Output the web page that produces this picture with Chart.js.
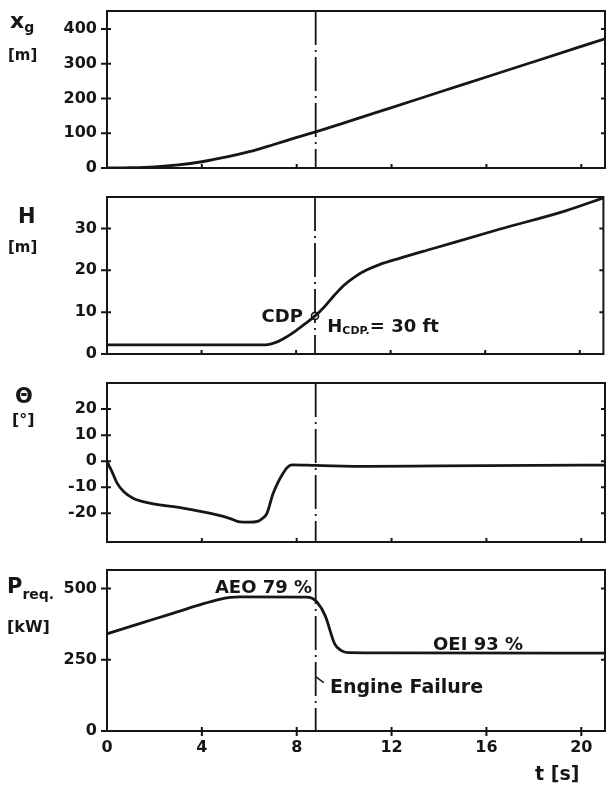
<!DOCTYPE html>
<html lang="de">
<head>
<meta charset="UTF-8">
<title>Take-off with engine failure at CDP</title>
<script src="https://cdn.jsdelivr.net/npm/chart.js@4"></script>
<style>
  html, body {
    margin: 0;
    padding: 0;
    width: 609px;
    height: 785px;
    overflow: hidden;
    background: #fff;
  }
  .panel {
    position: absolute;
    left: 0;
    width: 609px;
  }
</style>
</head>
<body>
<!-- four panels stacked, sharing the time axis -->
<div class="panel" style="top:-9px;height:197px"><canvas id="distChart"></canvas></div>
<div class="panel" style="top:177px;height:197px"><canvas id="heightChart"></canvas></div>
<div class="panel" style="top:363px;height:199px"><canvas id="pitchChart"></canvas></div>
<div class="panel" style="top:550px;height:235px"><canvas id="powerChart"></canvas></div>

<script>
// ---- data ----
const tTicks = [0, 4, 8, 12, 16, 20];
const failureTime = 8.8;   // engine failure / CDP

// horizontal distance x_g [m]
const tDist = [0, 1, 2, 3, 4, 5, 6, 7, 8, 8.8, 10, 12, 14, 16, 18, 20, 21];
const distVals = [0, 1, 3.5, 9, 18, 31, 47, 67, 88, 104, 130, 174, 218, 262, 306, 350, 372];
const distTicks = [0, 100, 200, 300, 400];

// height H [m]
const tHeight = [0, 6.7, 7.2, 7.6, 8.0, 8.4, 8.8, 9.2, 9.6, 10.0, 10.5, 11.0, 11.5, 12.4, 13.8, 16.6, 19.4, 21];
const heightVals = [2.2, 2.2, 2.9, 4.1, 5.6, 7.3, 9.1, 11.3, 13.9, 16.3, 18.5, 20.1, 21.3, 22.9, 25.2, 29.8, 34.2, 37.3];
const heightTicks = [0, 10, 20, 30];
const cdpPoint = [{x: 8.8, y: 9.1}];

// pitch attitude theta [deg]
const tPitch = [0, 0.1, 0.2, 0.43, 0.71, 1.1, 1.8, 3.2, 4.6, 5.2, 5.6, 6.0, 6.35, 6.55, 6.75, 7.0, 7.2, 7.4, 7.6, 7.8, 8.8, 11, 14, 18, 21];
const pitchVals = [0, -2, -3.8, -8.5, -11.7, -14.2, -16.1, -18.0, -20.5, -22.0, -23.3, -23.4, -23.1, -22.0, -19.9, -12.5, -8.3, -5.0, -2.4, -1.4, -1.6, -2.0, -1.8, -1.6, -1.5];
const pitchTicks = [-20, -10, 0, 10, 20];

// required power P_req [kW]
const tPower = [0, 1, 2, 3, 4, 4.7, 5.2, 5.6, 8.4, 8.65, 8.85, 9.2, 9.6, 9.85, 10.15, 12, 21];
const powerVals = [341, 367, 393, 419, 445, 461, 469, 471, 470, 466, 453, 405, 306, 284, 275, 274, 273];
const powerTicks = [0, 250, 500];

const ink = '#161616';
const face = "'DejaVu Sans', sans-serif";

Chart.defaults.font.family = face;
Chart.defaults.font.size = 16;
Chart.defaults.font.weight = 'bold';
Chart.defaults.color = ink;

function curve(ts, vs) {
  return {
    data: ts.map((t, i) => ({x: t, y: vs[i]})),
    borderColor: ink,
    borderWidth: 2.8,
    pointRadius: 0,
    cubicInterpolationMode: 'monotone',
    fill: false
  };
}

// draws a run of text pieces: [text, size, dy]
function drawRun(ctx, x, y, parts) {
  parts.forEach(([txt, size, dy]) => {
    ctx.font = 'bold ' + size + 'px ' + face;
    ctx.fillText(txt, x, y + (dy || 0));
    x += ctx.measureText(txt).width;
  });
}

// frame, ticks, dash-dot failure line and labels
const frame = {
  id: 'frame',
  beforeDatasetsDraw(chart) {
    const {ctx, chartArea: a, scales: {x}} = chart;
    const fx = x.getPixelForValue(failureTime);
    ctx.save();
    ctx.strokeStyle = ink;
    ctx.lineWidth = 1.8;
    ctx.setLineDash([34, 5, 2, 5]);
    ctx.beginPath();
    ctx.moveTo(fx, a.top);
    ctx.lineTo(fx, a.bottom);
    ctx.stroke();
    ctx.restore();
  },
  afterDraw(chart, args, o) {
    const {ctx, chartArea: a, scales: {x, y}} = chart;
    ctx.save();
    ctx.strokeStyle = ink;
    ctx.lineWidth = 2;
    ctx.strokeRect(a.left, a.top, a.right - a.left, a.bottom - a.top);
    ctx.beginPath();
    y.ticks.forEach(tk => {
      const py = y.getPixelForValue(tk.value);
      ctx.moveTo(a.left - 6, py); ctx.lineTo(a.left + 4, py);
      ctx.moveTo(a.right - 4, py); ctx.lineTo(a.right, py);
    });
    tTicks.forEach(v => {
      if (v === 0) return;
      const px = x.getPixelForValue(v);
      ctx.moveTo(px, a.bottom - 4);
      ctx.lineTo(px, a.bottom + (o.timeAxis ? 5 : 0));
    });
    ctx.stroke();

    if (o.hook) {
      const fx = x.getPixelForValue(failureTime);
      ctx.lineWidth = 1.5;
      ctx.beginPath();
      ctx.moveTo(fx, y.getPixelForValue(o.hook[0]));
      ctx.lineTo(fx + 8, y.getPixelForValue(o.hook[1]));
      ctx.stroke();
    }

    ctx.fillStyle = ink;
    ctx.textBaseline = 'alphabetic';
    ctx.textAlign = 'left';
    // axis titles, page coordinates
    (o.titles || []).forEach(tl => drawRun(ctx, tl.x, tl.y - o.top, tl.parts));
    // notes anchored in data coordinates
    (o.notes || []).forEach(n => drawRun(ctx, x.getPixelForValue(n.t), y.getPixelForValue(n.v), n.parts));
    ctx.restore();
  }
};

function makePanel(id, top, datasets, yMin, yMax, yTicks, deco) {
  const timeAxis = !!deco.timeAxis;
  const xScale = {
    type: 'linear',
    min: 0,
    max: 21,
    display: timeAxis,
    grid: {display: false, drawTicks: false},
    border: {display: false},
    ticks: {padding: 7, maxRotation: 0},
    afterBuildTicks: s => { s.ticks = tTicks.map(v => ({value: v})); }
  };
  if (timeAxis) xScale.afterFit = s => { s.height = 54; };

  return new Chart(document.getElementById(id), {
    type: 'line',
    data: {datasets},
    options: {
      responsive: true,
      maintainAspectRatio: false,
      animation: false,
      layout: {padding: {top: 20, bottom: timeAxis ? 0 : 20, left: 0, right: 4}},
      plugins: {
        legend: {display: false},
        tooltip: {enabled: false},
        frame: Object.assign({top}, deco)
      },
      scales: {
        x: xScale,
        y: {
          min: yMin,
          max: yMax,
          grid: {display: false, drawTicks: false},
          border: {display: false},
          ticks: {padding: 10},
          afterBuildTicks: s => { s.ticks = yTicks.map(v => ({value: v})); },
          afterFit: s => { s.width = 107; }
        }
      }
    },
    plugins: [frame]
  });
}

makePanel('distChart', -9, [curve(tDist, distVals)], 0, 452, distTicks, {
  titles: [
    {x: 10, y: 28, parts: [['x', 22], ['g', 14, 4]]},
    {x: 8, y: 60, parts: [['[m]', 15]]}
  ]
});

makePanel('heightChart', 177, [
  curve(tHeight, heightVals),
  {data: cdpPoint, showLine: false, pointRadius: 3.5, pointBorderWidth: 1.6,
   pointBorderColor: ink, pointBackgroundColor: '#fff'}
], 0, 37.5, heightTicks, {
  titles: [
    {x: 18, y: 223, parts: [['H', 21]]},
    {x: 8, y: 252, parts: [['[m]', 15]]}
  ],
  notes: [
    {t: 6.54, v: 7.7, parts: [['CDP', 18]]},
    {t: 9.32, v: 5.35, parts: [['H', 18], ['CDP.', 11, 2], ['= 30 ft', 18]]}
  ]
});

makePanel('pitchChart', 363, [curve(tPitch, pitchVals)], -31, 30, pitchTicks, {
  titles: [
    {x: 15, y: 403, parts: [['\u0398', 21]]},
    {x: 12, y: 425, parts: [['[\u00b0]', 16]]}
  ]
});

makePanel('powerChart', 550, [curve(tPower, powerVals)], 0, 565, powerTicks, {
  timeAxis: true,
  hook: [191, 170],
  titles: [
    {x: 7, y: 593, parts: [['P', 21], ['req.', 14, 6]]},
    {x: 7, y: 632, parts: [['[kW]', 16]]},
    {x: 535, y: 780, parts: [['t [s]', 19]]}
  ],
  notes: [
    {t: 4.55, v: 484, parts: [['AEO 79 %', 18]]},
    {t: 13.75, v: 284, parts: [['OEI 93 %', 18]]},
    {t: 9.4, v: 133, parts: [['Engine Failure', 19]]}
  ]
});
</script>
</body>
</html>
